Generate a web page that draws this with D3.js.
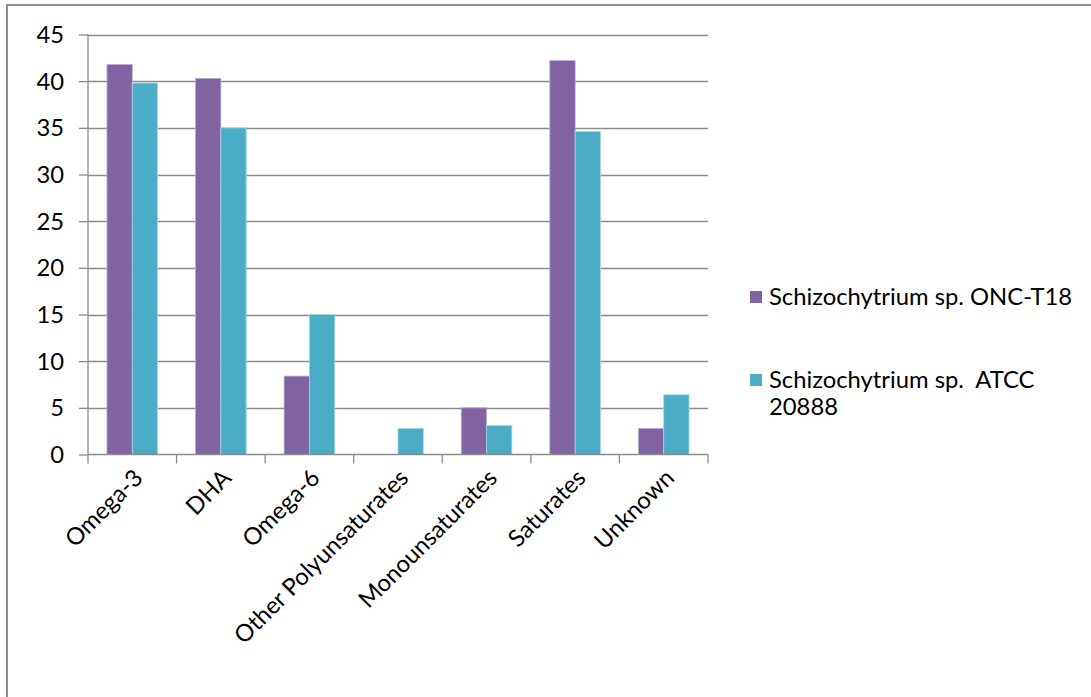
<!DOCTYPE html>
<html><head><meta charset="utf-8">
<script src="https://cdn.jsdelivr.net/npm/d3@7"></script>
<style>body{margin:0;background:#fff;} svg{display:block;} text{font-family:Lato,"Open Sans",sans-serif;fill:#000;}</style>
</head><body>
<script>
const categories = ["Omega-3","DHA","Omega-6","Other Polyunsaturates","Monounsaturates","Saturates","Unknown"];
const seriesNames = ["Schizochytrium sp. ONC-T18","Schizochytrium sp.  ATCC 20888"];
const onc = [41.8, 40.3, 8.4, 0, 5.0, 42.2, 2.8];
const atcc = [39.8, 35.0, 15.0, 2.8, 3.1, 34.6, 6.4];
const yTicks = [0,5,10,15,20,25,30,35,40,45];
const colors = ["#8064A2","#4BACC6"];

(function(){
const W = 1091, H = 697, FS = "23.8px";
const svg = d3.select("body").append("svg").attr("width", W).attr("height", H);
svg.append("rect").attr("x",7).attr("y",5).attr("width",W).attr("height",H).attr("fill","#fff").attr("stroke","#8c8c8c").attr("stroke-width",2);

const pL = 88, pR = 708, pT = 34.5, pB = 454.5;
const y = d3.scaleLinear().domain([0,45]).range([pB, pT]);
const x = d3.scaleBand().domain(categories).range([pL, pR]).paddingInner(0).paddingOuter(0);
const step = x.bandwidth();
const barW = step / 3.5;
const xs = d3.scaleBand().domain([0,1]).range([0, barW*2]);

// gridlines
svg.append("g").selectAll("line").data(yTicks.filter(d=>d>0)).join("line")
  .attr("x1",pL).attr("x2",pR).attr("y1",d=>Math.round(y(d))+0.5).attr("y2",d=>Math.round(y(d))+0.5)
  .attr("stroke","#8c8c8c").attr("stroke-width",1.3);

// bars
const data = categories.map((c,i)=>({c, v:[onc[i], atcc[i]]}));
const g = svg.append("g");
data.forEach(d=>{
  const x0 = x(d.c) + (step - barW*2)/2;
  d.v.forEach((v,j)=>{
    if (v<=0) return;
    g.append("rect").attr("x", x0 + xs(j)).attr("y", y(v)).attr("width", barW).attr("height", y(0)-y(v))
      .attr("fill", colors[j]).attr("stroke", j===0?"#b9a9cf":"#a5d8e6").attr("stroke-width",0.8);
  });
});

// y axis
const yAxis = d3.axisLeft(y).tickValues(yTicks).tickSize(9).tickPadding(15).tickFormat(d3.format("d"));
const ya = svg.append("g").attr("transform",`translate(${pL},0)`).call(yAxis);
ya.select(".domain").attr("stroke","#8c8c8c").attr("stroke-width",1.3).attr("d",`M0,${pT}V${pB}`);
ya.selectAll(".tick line").attr("stroke","#8c8c8c").attr("stroke-width",1.3);
ya.selectAll("text").style("font-size",FS).attr("fill","#000").attr("dy","0.34em");

// x axis
const xAxis = d3.axisBottom(x).tickSize(0).tickFormat("");
const xa = svg.append("g").attr("transform",`translate(0,${pB})`).call(xAxis);
xa.select(".domain").attr("stroke","#8c8c8c").attr("stroke-width",1.3).attr("d",`M${pL},0H${pR}`);
const bounds = categories.map(c=>x(c)).concat([pR]);
xa.selectAll(".bt").data(bounds).join("line").attr("class","bt")
  .attr("x1",d=>d).attr("x2",d=>d).attr("y1",0).attr("y2",9).attr("stroke","#8c8c8c").attr("stroke-width",1.3);
svg.append("g").selectAll("text").data(categories).join("text")
  .attr("transform", d=>`translate(${x(d)+step/2+6},${pB+19}) rotate(-45)`)
  .attr("text-anchor","end").attr("dy","0.35em").style("font-size",FS).text(d=>d);

// legend
const lg = svg.append("g");
const legendItems = [{lines:["Schizochytrium sp. ONC-T18"], y:297},
                     {lines:["Schizochytrium sp.  ATCC","20888"], y:380}];
legendItems.forEach((it,i)=>{
  lg.append("rect").attr("x",750).attr("y",it.y-6).attr("width",12).attr("height",12).attr("fill",colors[i]);
  const t = lg.append("text").attr("x",769).attr("y",it.y).style("font-size",FS).style("white-space","pre");
  it.lines.forEach((l,k)=>t.append("tspan").attr("x",769).attr("dy", k===0?"0.35em":"27px").text(l));
});
})();
</script>
</body></html>
